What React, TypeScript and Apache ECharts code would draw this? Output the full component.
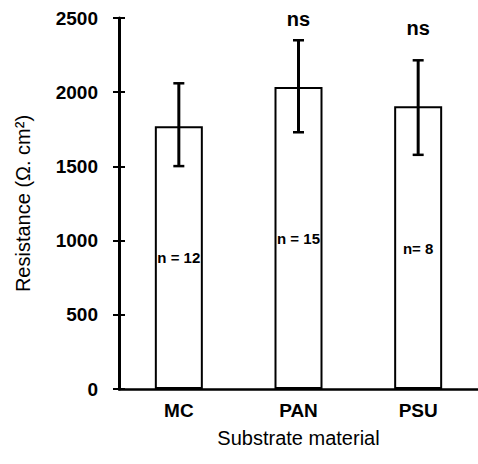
import React, { useEffect, useRef } from "react";
import * as echarts from "echarts";

const categories = ["MC", "PAN", "PSU"];
const meanValues = [1770, 2035, 1905];
const errLow = [1502, 1730, 1578];
const errHigh = [2060, 2350, 2215];
const sigLabels = ["", "ns", "ns"];
const sigLevels = [0, 2490, 2432];
const nLabels = ["n = 12", "n = 15", "n= 8"];
const nLabelLevels = [887, 1012, 944];
const yTicks = { min: 0, max: 2500, interval: 500 };

const FONT = "'Liberation Sans', Arial, Helvetica, sans-serif";

export default function App() {
  const ref = useRef<HTMLDivElement>(null);
  useEffect(() => {
    if (!ref.current) return;
    const chart = echarts.init(ref.current, undefined, { renderer: "svg" });
    const errData = categories.map((c, i) => [i, errLow[i], errHigh[i]]);
    const sigData = categories.map((c, i) => [i, sigLevels[i], sigLabels[i]]);
    const nData = categories.map((c, i) => [i, nLabelLevels[i], nLabels[i]]);
    chart.setOption({
      animation: false,
      backgroundColor: "#fff",
      grid: { left: 119, top: 18, width: 360, bottom: 75, containLabel: false },
      xAxis: {
        type: "category",
        data: categories,
        axisLine: { lineStyle: { color: "#000", width: 2.5 } },
        axisTick: { show: false },
        axisLabel: { color: "#000", fontSize: 19, fontFamily: FONT, fontWeight: "bold", margin: 12 },
        name: "Substrate material",
        nameLocation: "middle",
        nameGap: 39,
        nameTextStyle: { color: "#000", fontSize: 20, fontFamily: FONT },
      },
      yAxis: [
        {
          type: "value",
          min: yTicks.min,
          max: yTicks.max,
          interval: yTicks.interval,
          axisLine: { show: true, lineStyle: { color: "#000", width: 3 } },
          axisTick: { show: true, length: 6, lineStyle: { color: "#000", width: 2 } },
          splitLine: { show: false },
          axisLabel: {
            color: "#000",
            fontSize: 19,
            fontFamily: FONT,
            fontWeight: "bold",
            margin: 21,
            formatter: (v: number) => String(v),
          },
          name: "Resistance (Ω. cm²)",
          nameLocation: "middle",
          nameGap: 86,
          nameTextStyle: { color: "#000", fontSize: 20, fontFamily: FONT },
        },
        {
          type: "value",
          position: "left",
          min: yTicks.min,
          max: yTicks.max,
          interval: yTicks.interval,
          axisLine: { show: false },
          axisTick: { show: true, inside: true, length: 6, lineStyle: { color: "#000", width: 2 } },
          splitLine: { show: false },
          axisLabel: { show: false },
        },
      ],
      series: [
        {
          type: "bar",
          data: meanValues,
          barWidth: 48,
          itemStyle: { color: "#fff", borderColor: "#000", borderWidth: 2 },
          z: 2,
        },
        {
          type: "custom",
          data: errData,
          z: 5,
          renderItem: (params: any, api: any) => {
            const x = api.value(0);
            const lo = api.coord([x, api.value(1)]);
            const hi = api.coord([x, api.value(2)]);
            const cx = lo[0];
            const hw = 5.5;
            const style = { stroke: "#000", lineWidth: 3 };
            return {
              type: "group",
              children: [
                { type: "line", shape: { x1: cx, y1: hi[1], x2: cx, y2: lo[1] }, style },
                { type: "line", shape: { x1: cx - hw, y1: hi[1], x2: cx + hw, y2: hi[1] }, style: { stroke: "#000", lineWidth: 2.5 } },
                { type: "line", shape: { x1: cx - hw, y1: lo[1], x2: cx + hw, y2: lo[1] }, style: { stroke: "#000", lineWidth: 2.5 } },
              ],
            };
          },
        },
        {
          type: "custom",
          data: sigData,
          z: 6,
          renderItem: (params: any, api: any) => {
            const p = api.coord([api.value(0), api.value(1)]);
            return {
              type: "text",
              x: p[0],
              y: p[1],
              style: {
                text: sigData[params.dataIndex][2] as string,
                fill: "#000",
                font: `bold 20px ${FONT}`,
                align: "center",
                verticalAlign: "middle",
              },
            };
          },
        },
        {
          type: "custom",
          data: nData,
          z: 6,
          renderItem: (params: any, api: any) => {
            const p = api.coord([api.value(0), api.value(1)]);
            return {
              type: "text",
              x: p[0],
              y: p[1],
              style: {
                text: nData[params.dataIndex][2] as string,
                fill: "#000",
                font: `bold 15px ${FONT}`,
                align: "center",
                verticalAlign: "middle",
              },
            };
          },
        },
      ],
    });
    return () => chart.dispose();
  }, []);
  return <div ref={ref} style={{ position: "absolute", left: 0, top: 0, width: 478, height: 464 }} />;
}
